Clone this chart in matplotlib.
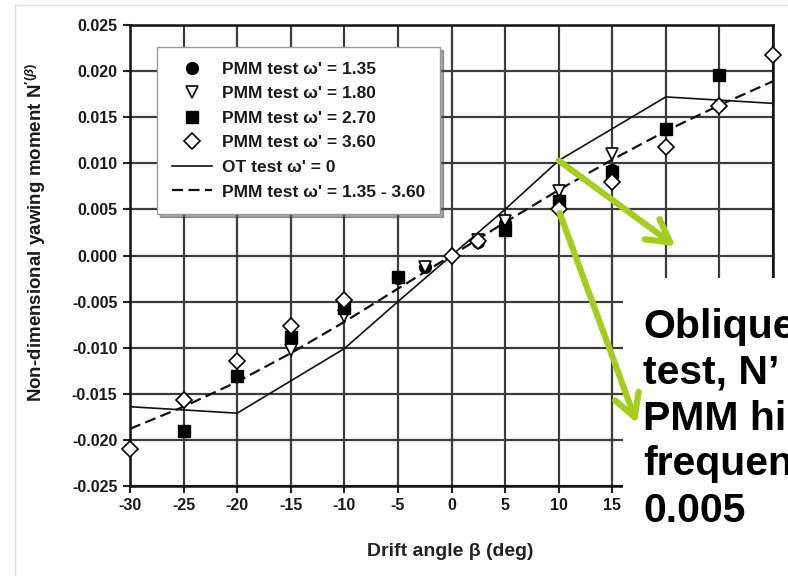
import matplotlib
matplotlib.use("Agg")
import matplotlib.pyplot as plt
from matplotlib.lines import Line2D
from matplotlib.patches import Rectangle

plt.rcParams['font.family'] = ['Liberation Sans', 'DejaVu Sans']
plt.rcParams['mathtext.fontset'] = 'custom'
plt.rcParams['mathtext.rm'] = 'Liberation Sans:bold'
plt.rcParams['mathtext.bf'] = 'Liberation Sans:bold'
plt.rcParams['mathtext.it'] = 'Liberation Sans:bold:italic'

# ---- data ----
x_ticks = [-30, -25, -20, -15, -10, -5, 0, 5, 10, 15, 20, 25, 30]
x_tick_labels = ["-30", "-25", "-20", "-15", "-10", "-5", "0", "5", "10", "15", "20", "25", "30"]
y_ticks = [-0.025, -0.020, -0.015, -0.010, -0.005, 0.0, 0.005, 0.010, 0.015, 0.020, 0.025]
y_tick_labels = ["-0.025", "-0.020", "-0.015", "-0.010", "-0.005", "0.000",
                 "0.005", "0.010", "0.015", "0.020", "0.025"]

pmm135_x = [-15, -10, -5, -2.5, 2.5, 5, 10, 15]
pmm135_y = [-0.0091, -0.0058, -0.0024, -0.0012, 0.0015, 0.0035, 0.0060, 0.0093]

pmm180_x = [-15, -10, -2.5, 2.5, 5, 10, 15]
pmm180_y = [-0.0102, -0.0066, -0.0013, 0.0017, 0.0037, 0.0070, 0.0110]

pmm270_x = [-25, -20, -15, -10, -5, 5, 10, 15, 20, 25]
pmm270_y = [-0.0190, -0.0131, -0.0088, -0.0057, -0.0023, 0.0028, 0.0059, 0.0091, 0.0137, 0.0196]

pmm360_x = [-30, -25, -20, -15, -10, 0, 2.5, 10, 15, 20, 25, 30]
pmm360_y = [-0.0210, -0.0157, -0.0114, -0.0077, -0.0048, 0.0, 0.0016, 0.0050, 0.0080, 0.0118, 0.0162, 0.0217]

ot_x = [-30, -20, -10, -5, 0, 5, 10, 20, 30]
ot_y = [-0.0164, -0.0171, -0.0101, -0.0050, 0.0, 0.0050, 0.0103, 0.0172, 0.0165]

fit_x = [-30, -25, -20, -15, -10, -5, 0, 5, 10, 15, 20, 25, 30]
fit_y = [-0.0188, -0.0164, -0.0137, -0.0106, -0.0072, -0.0036, 0.0, 0.0036, 0.0071, 0.0104, 0.0135, 0.0163, 0.0189]

legend_labels = ["PMM test ω' = 1.35", "PMM test ω' = 1.80", "PMM test ω' = 2.70",
                 "PMM test ω' = 3.60", "OT test ω' = 0", "PMM test ω' = 1.35 - 3.60"]

# visible part of the slide note (it runs off the right edge of the screenshot)
note_lines = ["Oblique", "test, N’", "PMM hi", "frequen", "0.005"]

W, H = 788, 576
fig = plt.figure(figsize=(W / 100, H / 100), dpi=100)
fig.patch.set_facecolor('white')

def fx(px):
    return px / W

def fy(py):
    return 1 - py / H

ax = fig.add_axes([fx(130), fy(486), fx(773) - fx(130), fy(25) - fy(486)])
ax.set_xlim(-30, 30)
ax.set_ylim(-0.025, 0.025)

gcol = '#3c3c3c'
ax.set_xticks(x_ticks)
ax.set_xticklabels(x_tick_labels)
ax.set_yticks(y_ticks)
ax.set_yticklabels(y_tick_labels)
ax.grid(True, color=gcol, lw=1.6, zorder=0)
ax.set_axisbelow(True)
ax.tick_params(direction='out', length=5, width=1.5, color='#222222', labelsize=11.5, pad=4)
for lab in ax.get_xticklabels() + ax.get_yticklabels():
    lab.set_fontweight('bold')
    lab.set_color('#1a1a1a')
# tick labels beyond 15 deg are hidden behind the slide's text box
for t, lab in zip(x_ticks, ax.get_xticklabels()):
    if t > 15:
        lab.set_visible(False)
for s in ax.spines.values():
    s.set_linewidth(1.8)
    s.set_color('#111111')

ax.plot(ot_x, ot_y, color='#111111', lw=1.2, zorder=3)
ax.plot(fit_x, fit_y, color='#111111', lw=1.6, dashes=(5, 2.4), zorder=3)

mk = dict(linestyle='none', clip_on=False, zorder=4)
ax.plot(pmm135_x, pmm135_y, marker='o', ms=8.5, mfc='black', mec='black', **mk)
ax.plot(pmm180_x, pmm180_y, marker='v', ms=9, mfc='white', mec='black', mew=1.2, **mk)
ax.plot(pmm270_x, pmm270_y, marker='s', ms=8.5, mfc='black', mec='black', **mk)
ax.plot(pmm360_x, pmm360_y, marker='D', ms=7.8, mfc='white', mec='black', mew=1.2, **mk)

handles = [
    Line2D([], [], marker='o', ms=8.5, mfc='black', mec='black', ls='none'),
    Line2D([], [], marker='v', ms=9, mfc='white', mec='black', mew=1.2, ls='none'),
    Line2D([], [], marker='s', ms=8.5, mfc='black', mec='black', ls='none'),
    Line2D([], [], marker='D', ms=7.8, mfc='white', mec='black', mew=1.2, ls='none'),
    Line2D([], [], color='#111111', lw=1.2),
    Line2D([], [], color='#111111', lw=1.6, dashes=(5, 2.4)),
]
leg = ax.legend(handles, legend_labels, loc='upper left',
                bbox_to_anchor=(fx(157), fy(47)), bbox_transform=fig.transFigure,
                borderaxespad=0, frameon=True, fancybox=False, shadow=True,
                handlelength=2.3, handletextpad=0.6, labelspacing=0.54,
                borderpad=0.85, prop={'weight': 'bold', 'size': 12.5})
leg.get_frame().set_edgecolor('#9a9a9a')
leg.get_frame().set_linewidth(1.0)
leg.set_zorder(6)
for txt in leg.get_texts():
    txt.set_color('#1a1a1a')

fig.text(fx(36), fy(232), r"Non-dimensional yawing moment N$^{\prime(\beta)}$",
         rotation=90, ha='center', va='center', fontsize=13.5, fontweight='bold',
         color='#1a1a1a')
fig.text(fx(450), fy(552), "Drift angle β (deg)", ha='center', va='center',
         fontsize=14, fontweight='bold', color='#222222')

# white text box of the slide overlapping the chart
ax.add_patch(Rectangle((fx(623), 0), 1 - fx(623), fy(278), transform=fig.transFigure,
                       facecolor='white', edgecolor='none', clip_on=False, zorder=10))

green = '#a5cc1e'
arrow_kw = dict(arrowstyle='->,head_length=0.9,head_width=0.5', color=green, lw=4.5,
                mutation_scale=18, shrinkA=0, shrinkB=0)
ax.annotate('', xy=(20.9, 0.0010), xytext=(10, 0.0103), arrowprops=arrow_kw,
            annotation_clip=False, zorder=11)
ax.annotate('', xy=(17.3, -0.0182), xytext=(10.1, 0.0046), arrowprops=arrow_kw,
            annotation_clip=False, zorder=11)

baselines = [338, 383, 430, 475, 522]
for t, b in zip(note_lines, baselines):
    fig.text(fx(643), fy(b), t, ha='left', va='baseline', fontsize=29.5,
             fontweight='bold', color='black', zorder=12)

# screenshot border
fig.add_artist(Line2D([fx(15), fx(15)], [0, fy(5)], color='#dcdcdc', lw=1.0))
fig.add_artist(Line2D([fx(15), 1], [fy(5), fy(5)], color='#dcdcdc', lw=1.0))

fig.savefig('out.png', dpi=100, facecolor='white')
